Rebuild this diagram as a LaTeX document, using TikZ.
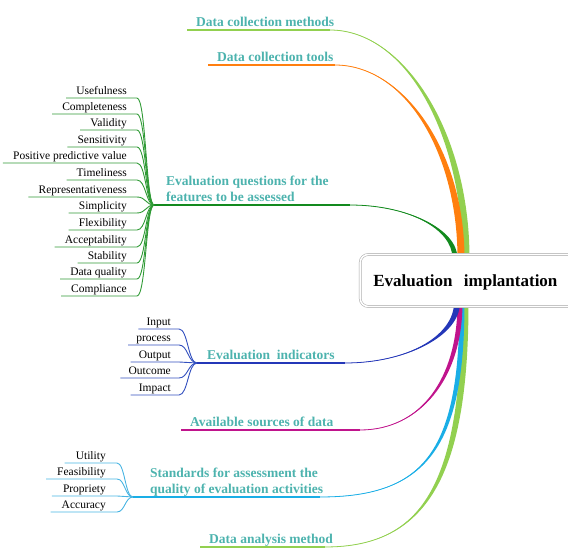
\documentclass[tikz,border=0pt]{standalone}
\usepackage{fontspec}
\setmainfont{Liberation Serif}
\usetikzlibrary{calc, backgrounds}

\definecolor{lblteal}{HTML}{4DB3AE}
\definecolor{brgreen}{HTML}{92D050}
\definecolor{brorange}{HTML}{FF7F0F}
\definecolor{brdkgreen}{HTML}{138A1E}
\definecolor{brblue}{HTML}{2437B8}
\definecolor{brmagenta}{HTML}{C0148C}
\definecolor{brcyan}{HTML}{1AAEE6}
\definecolor{qgreen}{HTML}{2F9A35}
\definecolor{iblue}{HTML}{3350BF}
\definecolor{scyan}{HTML}{48B4E2}

% tapered branch: colour, start, end, looseness, half width
\newcommand{\mmbranch}[5]{%
  \fill[#1] (#2) .. controls ($(#2)!#4!(#2-|#3)$) and ($(#3)!#4!(#3|-#2)+(-#5,0)$) .. ($(#3)+(-#5,0)$)
    -- ($(#3)+(#5,0)$) .. controls ($(#3)!#4!(#3|-#2)+(#5,0)$) and ($(#2)!#4!(#2-|#3)$) .. (#2) -- cycle;
  \draw[#1, line width=0.8pt] (#2) .. controls ($(#2)!#4!(#2-|#3)$) and ($(#3)!#4!(#3|-#2)$) .. (#3);
}

\begin{document}
\begin{tikzpicture}[x=1pt, y=-1pt]
    %mind map
\tikzset{
    branchlbl/.style={font=\fontsize{13.5}{16}\selectfont\bfseries, text=lblteal, inner xsep=9pt, inner ysep=3.5pt, text depth=0pt, anchor=south west, align=left},
    childlbl/.style={font=\fontsize{11.5}{13}\selectfont, inner xsep=10pt, inner ysep=3.5pt, text depth=0pt, anchor=south east},
    qline/.style={qgreen, line width=0.9pt},
    iline/.style={iblue, line width=0.9pt},
    sline/.style={scyan, line width=0.9pt}
}
    \useasboundingbox (0,0) rectangle (568,548);
    \clip (0,0) rectangle (568,548);

    \node[draw=gray!70, double=white, double distance=1.6pt, line width=0.5pt, rounded corners=8pt, fill=white, minimum height=52pt, text width=205pt, inner xsep=13pt, text height=12pt, text depth=0pt, anchor=west, font=\fontsize{17}{20}\selectfont\bfseries](root) at (360,280.5) {Evaluation\ \ implantation};

    \coordinate (h1) at ($(root.north west)+(106,4)$);
    \coordinate (h2) at ($(root.north west)+(101,4)$);
    \coordinate (h3) at ($(root.north west)+(95,4)$);
    \coordinate (h4) at ($(root.south west)+(97,-4)$);
    \coordinate (h5) at ($(root.south west)+(100,-4)$);
    \coordinate (h6) at ($(root.south west)+(102,-4)$);
    \coordinate (h7) at ($(root.south west)+(105,-4)$);

    \begin{scope}[on background layer]
    % upper branches
    \node[branchlbl](methods) at (187,30) {Data collection methods};
    \coordinate (b1) at (330,30);
    \draw[brgreen, line width=1.2pt] (methods.south west) -- (b1);
    \mmbranch{brgreen}{b1}{h1}{0.55}{3.5}

    \node[branchlbl](tools) at (208,65) {Data collection tools};
    \coordinate (b2) at (335,65);
    \draw[brorange, line width=1.2pt] (tools.south west) -- (b2);
    \mmbranch{brorange}{b2}{h2}{0.55}{3.5}

    \coordinate (qj) at (154,205);
    \node[branchlbl, inner xsep=12pt](questions) at (qj) {Evaluation questions for the\\features to be assessed};
    \coordinate (b3) at (350,205);
    \draw[brdkgreen, line width=1.2pt] (qj) -- (b3);
    \mmbranch{brdkgreen}{b3}{h3}{0.55}{2.5}

    \node[childlbl](useful) at (137,98) {Usefulness};
    \node[childlbl](complete) at (137,114) {Completeness};
    \node[childlbl](valid) at (137,130) {Validity};
    \node[childlbl](sensit) at (137,147) {Sensitivity};
    \node[childlbl](ppv) at (137,163) {Positive predictive value};
    \node[childlbl](timely) at (137,180) {Timeliness};
    \node[childlbl](repres) at (137,197) {Representativeness};
    \node[childlbl](simple) at (137,213) {Simplicity};
    \node[childlbl](flex) at (137,230) {Flexibility};
    \node[childlbl](accept) at (137,247) {Acceptability};
    \node[childlbl](stable) at (137,263) {Stability};
    \node[childlbl](dataq) at (137,279) {Data quality};
    \node[childlbl](comply) at (137,296) {Compliance};
    \draw[qline] (useful.south west) -- (useful.south east) .. controls +(9,0) and +(-8,0) .. (qj);
    \draw[qline] (complete.south west) -- (complete.south east) .. controls +(9,0) and +(-8,0) .. (qj);
    \draw[qline] (valid.south west) -- (valid.south east) .. controls +(9,0) and +(-8,0) .. (qj);
    \draw[qline] (sensit.south west) -- (sensit.south east) .. controls +(9,0) and +(-8,0) .. (qj);
    \draw[qline] (ppv.south west) -- (ppv.south east) .. controls +(9,0) and +(-8,0) .. (qj);
    \draw[qline] (timely.south west) -- (timely.south east) .. controls +(9,0) and +(-8,0) .. (qj);
    \draw[qline] (repres.south west) -- (repres.south east) .. controls +(9,0) and +(-8,0) .. (qj);
    \draw[qline] (simple.south west) -- (simple.south east) .. controls +(9,0) and +(-8,0) .. (qj);
    \draw[qline] (flex.south west) -- (flex.south east) .. controls +(9,0) and +(-8,0) .. (qj);
    \draw[qline] (accept.south west) -- (accept.south east) .. controls +(9,0) and +(-8,0) .. (qj);
    \draw[qline] (stable.south west) -- (stable.south east) .. controls +(9,0) and +(-8,0) .. (qj);
    \draw[qline] (dataq.south west) -- (dataq.south east) .. controls +(9,0) and +(-8,0) .. (qj);
    \draw[qline] (comply.south west) -- (comply.south east) .. controls +(9,0) and +(-8,0) .. (qj);

    % lower branches
    \node[branchlbl](analysis) at (200,547) {Data analysis method};
    \coordinate (b7) at (325,547);
    \draw[brgreen, line width=1.2pt] (analysis.south west) -- (b7);
    \mmbranch{brgreen}{b7}{h7}{0.72}{3.5}

    \coordinate (sj) at (133,497);
    \node[branchlbl, inner xsep=17pt](standards) at (sj) {Standards for assessment the\\quality of evaluation activities};
    \coordinate (b6) at (320,497);
    \draw[brcyan, line width=1.2pt] (sj) -- (b6);
    \mmbranch{brcyan}{b6}{h6}{0.75}{2.5}

    \node[childlbl, inner xsep=11pt](utility) at (117,463) {Utility};
    \node[childlbl, inner xsep=11pt](feasib) at (117,479) {Feasibility};
    \node[childlbl, inner xsep=11pt](propr) at (117,496) {Propriety};
    \node[childlbl, inner xsep=11pt](accur) at (117,512) {Accuracy};
    \draw[sline] (utility.south west) -- (utility.south east) .. controls +(8,0) and +(-8,0) .. (sj);
    \draw[sline] (feasib.south west) -- (feasib.south east) .. controls +(8,0) and +(-8,0) .. (sj);
    \draw[sline] (propr.south west) -- (propr.south east) .. controls +(8,0) and +(-8,0) .. (sj);
    \draw[sline] (accur.south west) -- (accur.south east) .. controls +(8,0) and +(-8,0) .. (sj);

    \node[branchlbl](sources) at (181,430) {Available sources of data};
    \coordinate (b5) at (360,430);
    \draw[brmagenta, line width=1.2pt] (sources.south west) -- (b5);
    \mmbranch{brmagenta}{b5}{h5}{0.6}{2.5}

    \coordinate (ij) at (197,363);
    \node[branchlbl, inner xsep=10pt](indicators) at (ij) {Evaluation\ \ indicators};
    \coordinate (b4) at (345,363);
    \draw[brblue, line width=1.2pt] (ij) -- (b4);
    \mmbranch{brblue}{b4}{h4}{0.55}{3}

    \node[childlbl, inner xsep=8pt](input) at (179,329) {Input};
    \node[childlbl, inner xsep=8pt](process) at (179,345) {process};
    \node[childlbl, inner xsep=8pt](output) at (179,362) {Output};
    \node[childlbl, inner xsep=8pt](outcome) at (179,378) {Outcome};
    \node[childlbl, inner xsep=8pt](impact) at (179,395) {Impact};
    \draw[iline] (input.south west) -- (input.south east) .. controls +(9,0) and +(-9,0) .. (ij);
    \draw[iline] (process.south west) -- (process.south east) .. controls +(9,0) and +(-9,0) .. (ij);
    \draw[iline] (output.south west) -- (output.south east) .. controls +(9,0) and +(-9,0) .. (ij);
    \draw[iline] (outcome.south west) -- (outcome.south east) .. controls +(9,0) and +(-9,0) .. (ij);
    \draw[iline] (impact.south west) -- (impact.south east) .. controls +(9,0) and +(-9,0) .. (ij);
    \end{scope}
\end{tikzpicture}
\end{document}
